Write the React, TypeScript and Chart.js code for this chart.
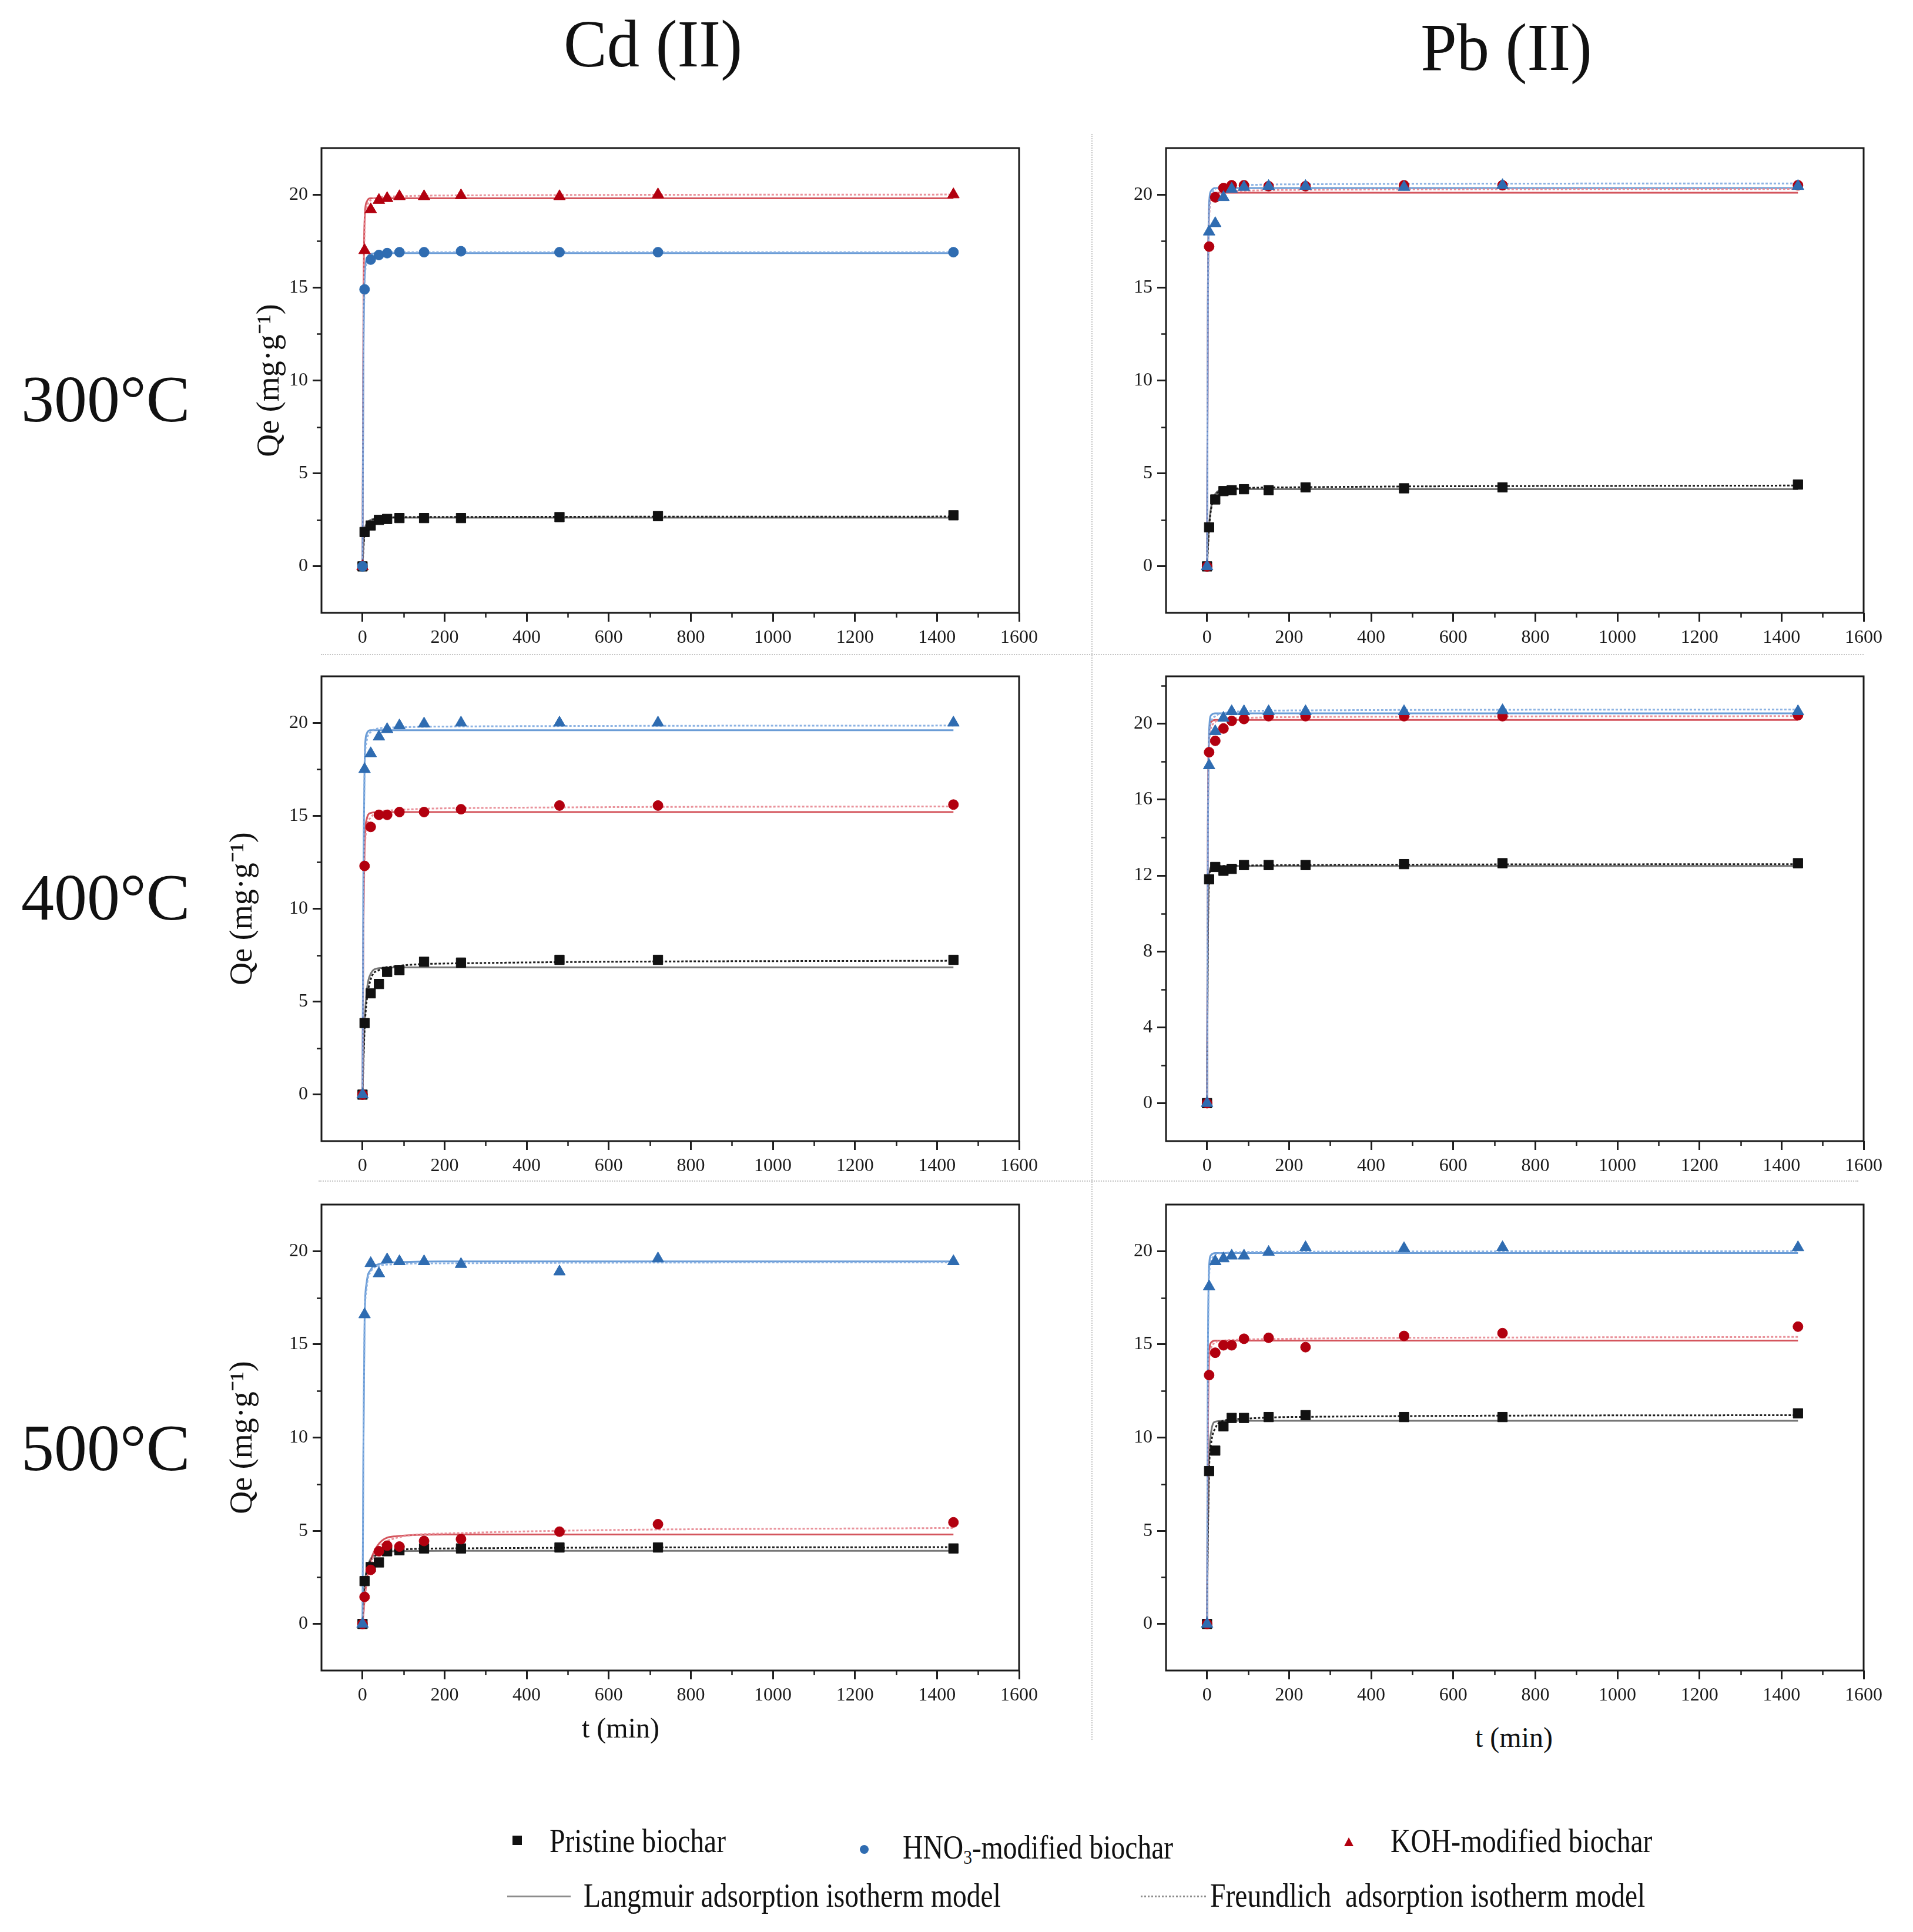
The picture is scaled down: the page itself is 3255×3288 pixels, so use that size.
import React, { useEffect, useRef } from 'react';
import { Chart, registerables } from 'chart.js';

Chart.register(...registerables);

const FONT = '"Liberation Serif", "Times New Roman", Times, serif';
Chart.defaults.font.family = FONT;

// ---------- shared axes / times ----------
const T_MIN = [0, 5, 20, 40, 60, 90, 150, 240, 480, 720, 1440];
const FIT_T = [0, 2, 5, 10, 20, 40, 80, 200, 1440];
const X_TICKS = [0, 200, 400, 600, 800, 1000, 1200, 1400, 1600];
const X_MINOR = [100, 300, 500, 700, 900, 1100, 1300, 1500];
const Y_TICKS_5 = [0, 5, 10, 15, 20];
const Y_MINOR_5 = [2.5, 7.5, 12.5, 17.5];
const Y_TICKS_4 = [0, 4, 8, 12, 16, 20];
const Y_MINOR_4 = [2, 6, 10, 14, 18, 22];

// ---------- Cd(II) 300 °C ----------
const CD300_PRISTINE = [0, 1.85, 2.2, 2.5, 2.55, 2.6, 2.6, 2.6, 2.65, 2.7, 2.75];
const CD300_HNO3 = [0, 14.9, 16.5, 16.75, 16.85, 16.9, 16.9, 16.95, 16.9, 16.9, 16.9];
const CD300_KOH = [0, 17.0, 19.2, 19.7, 19.8, 19.9, 19.9, 19.95, 19.9, 20.0, 20.0];
const CD300_PRISTINE_L = [0, 1.0, 1.9, 2.3, 2.5, 2.6, 2.62, 2.62, 2.62];
const CD300_PRISTINE_F = [0, 0.9, 1.8, 2.2, 2.45, 2.58, 2.64, 2.66, 2.68];
const CD300_HNO3_L = [0, 10.5, 15.5, 16.5, 16.8, 16.85, 16.85, 16.85, 16.85];
const CD300_HNO3_F = [0, 10.0, 15.0, 16.3, 16.7, 16.85, 16.9, 16.9, 16.9];
const CD300_KOH_L = [0, 12.5, 18.6, 19.6, 19.8, 19.8, 19.8, 19.8, 19.8];
const CD300_KOH_F = [0, 11.5, 18.0, 19.3, 19.7, 19.85, 19.9, 19.95, 20.0];

// ---------- Pb(II) 300 °C ----------
const PB300_PRISTINE = [0, 2.1, 3.6, 4.05, 4.1, 4.15, 4.1, 4.25, 4.2, 4.25, 4.4];
const PB300_HNO3 = [0, 18.0, 18.45, 19.85, 20.3, 20.4, 20.45, 20.45, 20.4, 20.5, 20.45];
const PB300_KOH = [0, 17.2, 19.85, 20.35, 20.5, 20.5, 20.45, 20.45, 20.5, 20.5, 20.5];
const PB300_PRISTINE_L = [0, 1.0, 2.2, 3.2, 3.9, 4.12, 4.15, 4.15, 4.15];
const PB300_PRISTINE_F = [0, 0.9, 2.1, 3.1, 3.8, 4.1, 4.2, 4.25, 4.35];
const PB300_HNO3_L = [0, 14.0, 19.5, 20.2, 20.35, 20.35, 20.35, 20.35, 20.35];
const PB300_HNO3_F = [0, 13.0, 18.8, 19.9, 20.3, 20.45, 20.5, 20.55, 20.6];
const PB300_KOH_L = [0, 14.0, 19.3, 20.0, 20.1, 20.1, 20.1, 20.1, 20.1];
const PB300_KOH_F = [0, 13.0, 18.6, 19.7, 20.0, 20.15, 20.2, 20.25, 20.3];

// ---------- Cd(II) 400 °C ----------
const CD400_PRISTINE = [0, 3.85, 5.45, 5.95, 6.6, 6.7, 7.15, 7.1, 7.25, 7.25, 7.25];
const CD400_HNO3 = [0, 17.5, 18.35, 19.25, 19.65, 19.85, 19.95, 20.0, 20.0, 20.0, 20.0];
const CD400_KOH = [0, 12.3, 14.4, 15.05, 15.05, 15.2, 15.2, 15.35, 15.55, 15.55, 15.6];
const CD400_PRISTINE_L = [0, 1.8, 3.8, 5.5, 6.5, 6.8, 6.85, 6.85, 6.85];
const CD400_PRISTINE_F = [0, 1.6, 3.5, 5.0, 6.2, 6.7, 6.9, 7.05, 7.2];
const CD400_HNO3_L = [0, 11.5, 17.8, 19.4, 19.6, 19.6, 19.6, 19.6, 19.6];
const CD400_HNO3_F = [0, 11.0, 17.2, 19.0, 19.5, 19.7, 19.75, 19.8, 19.85];
const CD400_KOH_L = [0, 8.5, 13.2, 14.8, 15.15, 15.2, 15.2, 15.2, 15.2];
const CD400_KOH_F = [0, 8.0, 12.6, 14.3, 14.9, 15.2, 15.3, 15.4, 15.5];

// ---------- Pb(II) 400 °C ----------
const PB400_PRISTINE = [0, 11.8, 12.45, 12.25, 12.35, 12.55, 12.55, 12.55, 12.6, 12.65, 12.65];
const PB400_HNO3 = [0, 17.8, 19.6, 20.3, 20.65, 20.65, 20.65, 20.65, 20.65, 20.7, 20.65];
const PB400_KOH = [0, 18.5, 19.1, 19.75, 20.15, 20.25, 20.4, 20.4, 20.4, 20.4, 20.45];
const PB400_PRISTINE_L = [0, 8.5, 12.0, 12.45, 12.5, 12.5, 12.5, 12.5, 12.5];
const PB400_PRISTINE_F = [0, 8.3, 11.8, 12.35, 12.45, 12.5, 12.52, 12.55, 12.6];
const PB400_HNO3_L = [0, 14.0, 19.6, 20.45, 20.55, 20.55, 20.55, 20.55, 20.55];
const PB400_HNO3_F = [0, 13.0, 19.0, 20.1, 20.4, 20.55, 20.65, 20.7, 20.75];
const PB400_KOH_L = [0, 14.5, 19.4, 20.1, 20.2, 20.2, 20.2, 20.2, 20.2];
const PB400_KOH_F = [0, 14.0, 18.9, 19.8, 20.1, 20.25, 20.3, 20.35, 20.4];

// ---------- Cd(II) 500 °C ----------
const CD500_PRISTINE = [0, 2.3, 3.05, 3.3, 3.9, 3.95, 4.05, 4.05, 4.1, 4.1, 4.05];
const CD500_HNO3 = [0, 16.6, 19.35, 18.8, 19.55, 19.45, 19.45, 19.3, 18.9, 19.6, 19.45];
const CD500_KOH = [0, 1.45, 2.9, 3.9, 4.2, 4.15, 4.45, 4.55, 4.95, 5.35, 5.45];
const CD500_PRISTINE_L = [0, 1.0, 2.1, 2.9, 3.5, 3.8, 3.9, 3.92, 3.92];
const CD500_PRISTINE_F = [0, 0.9, 2.0, 2.8, 3.4, 3.75, 3.95, 4.05, 4.12];
const CD500_HNO3_L = [0, 9.0, 16.3, 18.3, 19.0, 19.3, 19.4, 19.45, 19.45];
const CD500_HNO3_F = [0, 8.5, 15.8, 18.0, 18.9, 19.2, 19.3, 19.35, 19.4];
const CD500_KOH_L = [0, 0.5, 1.3, 2.3, 3.4, 4.3, 4.7, 4.8, 4.8];
const CD500_KOH_F = [0, 0.4, 1.2, 2.2, 3.2, 4.1, 4.6, 4.85, 5.15];

// ---------- Pb(II) 500 °C ----------
const PB500_PRISTINE = [0, 8.2, 9.3, 10.6, 11.05, 11.05, 11.1, 11.2, 11.1, 11.1, 11.3];
const PB500_HNO3 = [0, 18.1, 19.45, 19.6, 19.75, 19.75, 19.95, 20.2, 20.15, 20.2, 20.2];
const PB500_KOH = [0, 13.35, 14.55, 14.95, 14.95, 15.3, 15.35, 14.85, 15.45, 15.6, 15.95];
const PB500_PRISTINE_L = [0, 5.0, 8.8, 10.3, 10.85, 10.9, 10.9, 10.9, 10.9];
const PB500_PRISTINE_F = [0, 4.5, 8.3, 9.7, 10.5, 10.9, 11.0, 11.1, 11.2];
const PB500_HNO3_L = [0, 14.0, 19.2, 19.8, 19.9, 19.9, 19.9, 19.9, 19.9];
const PB500_HNO3_F = [0, 13.5, 18.6, 19.5, 19.8, 19.9, 19.95, 19.97, 20.0];
const PB500_KOH_L = [0, 10.0, 14.5, 15.1, 15.2, 15.2, 15.2, 15.2, 15.2];
const PB500_KOH_F = [0, 9.5, 13.9, 14.8, 15.1, 15.2, 15.25, 15.3, 15.4];

// ---------- styles ----------
const C_BLACK = '#111111';
const C_BLUE = '#2f6cb1';
const C_RED = '#b2000f';
const L_BLACK = 'rgba(95,95,95,0.85)';
const F_BLACK = '#1e1e1e';
const L_BLUE = 'rgba(90,145,210,0.9)';
const F_BLUE = 'rgba(135,175,225,0.95)';
const L_RED = 'rgba(205,55,65,0.85)';
const F_RED = 'rgba(232,140,150,0.95)';

const YW = 180;
const XH = 72;
const PT = 30;
const PR = 48;
const TICK_FONT = 32;
const YTITLE_FS = 54;

type Shape = 'circle' | 'triangle';
interface PanelCfg {
  frame: [number, number, number, number];
  yMin: number;
  yMax: number;
  yTicks: number[];
  yMinor: number[];
  yTitlePad: number | null;
  blueShape: Shape;
  redShape: Shape;
  pristine: number[];
  hno3: number[];
  koh: number[];
  pristineL: number[];
  pristineF: number[];
  hno3L: number[];
  hno3F: number[];
  kohL: number[];
  kohF: number[];
}

const PANELS: PanelCfg[] = [
  {
    frame: [547, 252, 1734, 1043], yMin: -2.5, yMax: 22.5, yTicks: Y_TICKS_5, yMinor: Y_MINOR_5, yTitlePad: 60,
    blueShape: 'circle', redShape: 'triangle',
    pristine: CD300_PRISTINE, hno3: CD300_HNO3, koh: CD300_KOH,
    pristineL: CD300_PRISTINE_L, pristineF: CD300_PRISTINE_F, hno3L: CD300_HNO3_L, hno3F: CD300_HNO3_F, kohL: CD300_KOH_L, kohF: CD300_KOH_F,
  },
  {
    frame: [1984, 252, 3171, 1043], yMin: -2.5, yMax: 22.5, yTicks: Y_TICKS_5, yMinor: Y_MINOR_5, yTitlePad: null,
    blueShape: 'triangle', redShape: 'circle',
    pristine: PB300_PRISTINE, hno3: PB300_HNO3, koh: PB300_KOH,
    pristineL: PB300_PRISTINE_L, pristineF: PB300_PRISTINE_F, hno3L: PB300_HNO3_L, hno3F: PB300_HNO3_F, kohL: PB300_KOH_L, kohF: PB300_KOH_F,
  },
  {
    frame: [547, 1151, 1734, 1942], yMin: -2.5, yMax: 22.5, yTicks: Y_TICKS_5, yMinor: Y_MINOR_5, yTitlePad: 14,
    blueShape: 'triangle', redShape: 'circle',
    pristine: CD400_PRISTINE, hno3: CD400_HNO3, koh: CD400_KOH,
    pristineL: CD400_PRISTINE_L, pristineF: CD400_PRISTINE_F, hno3L: CD400_HNO3_L, hno3F: CD400_HNO3_F, kohL: CD400_KOH_L, kohF: CD400_KOH_F,
  },
  {
    frame: [1984, 1151, 3171, 1942], yMin: -2, yMax: 22.5, yTicks: Y_TICKS_4, yMinor: Y_MINOR_4, yTitlePad: null,
    blueShape: 'triangle', redShape: 'circle',
    pristine: PB400_PRISTINE, hno3: PB400_HNO3, koh: PB400_KOH,
    pristineL: PB400_PRISTINE_L, pristineF: PB400_PRISTINE_F, hno3L: PB400_HNO3_L, hno3F: PB400_HNO3_F, kohL: PB400_KOH_L, kohF: PB400_KOH_F,
  },
  {
    frame: [547, 2050, 1734, 2843], yMin: -2.5, yMax: 22.5, yTicks: Y_TICKS_5, yMinor: Y_MINOR_5, yTitlePad: 14,
    blueShape: 'triangle', redShape: 'circle',
    pristine: CD500_PRISTINE, hno3: CD500_HNO3, koh: CD500_KOH,
    pristineL: CD500_PRISTINE_L, pristineF: CD500_PRISTINE_F, hno3L: CD500_HNO3_L, hno3F: CD500_HNO3_F, kohL: CD500_KOH_L, kohF: CD500_KOH_F,
  },
  {
    frame: [1984, 2050, 3171, 2843], yMin: -2.5, yMax: 22.5, yTicks: Y_TICKS_5, yMinor: Y_MINOR_5, yTitlePad: null,
    blueShape: 'triangle', redShape: 'circle',
    pristine: PB500_PRISTINE, hno3: PB500_HNO3, koh: PB500_KOH,
    pristineL: PB500_PRISTINE_L, pristineF: PB500_PRISTINE_F, hno3L: PB500_HNO3_L, hno3F: PB500_HNO3_F, kohL: PB500_KOH_L, kohF: PB500_KOH_F,
  },
];

const pts = (xs: number[], ys: number[]) => xs.map((x, i) => ({ x, y: ys[i] }));
const radiusFor = (s: string) => (s === 'circle' ? 8.5 : 11.5);

const frameMinorPlugin = {
  id: 'frameMinor',
  afterDraw(chart: any, _args: any, opts: any) {
    const { ctx, chartArea: a, scales } = chart;
    ctx.save();
    ctx.strokeStyle = '#1e1e1e';
    ctx.lineWidth = 2.5;
    ctx.beginPath();
    for (const v of opts.xMinor || []) {
      const px = Math.round(scales.x.getPixelForValue(v)) + 0.5;
      ctx.moveTo(px, a.bottom);
      ctx.lineTo(px, a.bottom + 8);
    }
    for (const v of opts.yMinor || []) {
      const py = Math.round(scales.y.getPixelForValue(v)) + 0.5;
      ctx.moveTo(a.left, py);
      ctx.lineTo(a.left - 8, py);
    }
    ctx.stroke();
    ctx.lineWidth = 3;
    ctx.strokeStyle = '#1a1a1a';
    ctx.strokeRect(a.left, a.top, a.right - a.left, a.bottom - a.top);
    ctx.restore();
  },
};

function Panel({ cfg }: { cfg: PanelCfg }) {
  const ref = useRef<HTMLCanvasElement>(null);
  const [L, T, R, B] = cfg.frame;
  const w = R - L + YW + PR;
  const h = B - T + PT + XH;
  const left = L - YW;
  const top = T - PT;

  useEffect(() => {
    const fit = (data: number[], color: string, dashed: boolean, order: number) => ({
      data: pts(FIT_T, data),
      borderColor: color,
      backgroundColor: color,
      borderWidth: 3,
      borderDash: dashed ? [4, 3] : [],
      pointRadius: 0,
      showLine: true,
      fill: false,
      cubicInterpolationMode: 'monotone' as const,
      order,
    });
    const mark = (data: number[], color: string, shape: string, order: number) => ({
      data: pts(T_MIN, data),
      borderColor: color,
      backgroundColor: color,
      pointStyle: shape,
      pointRadius: radiusFor(shape),
      pointBorderWidth: 1,
      showLine: false,
      order,
    });
    const chart = new Chart(ref.current as HTMLCanvasElement, {
      type: 'line',
      data: {
        datasets: [
          mark(cfg.hno3, C_BLUE, cfg.blueShape, 0),
          mark(cfg.koh, C_RED, cfg.redShape, 1),
          mark(cfg.pristine, C_BLACK, 'rect', 2),
          fit(cfg.hno3F, F_BLUE, true, 3),
          fit(cfg.kohF, F_RED, true, 4),
          fit(cfg.pristineF, F_BLACK, true, 5),
          fit(cfg.hno3L, L_BLUE, false, 6),
          fit(cfg.kohL, L_RED, false, 7),
          fit(cfg.pristineL, L_BLACK, false, 8),
        ] as any,
      },
      options: {
        responsive: false,
        devicePixelRatio: 1,
        animation: false,
        events: [],
        layout: { padding: { left: 0, top: PT, right: PR, bottom: 0 } },
        plugins: {
          legend: { display: false },
          tooltip: { enabled: false },
          frameMinor: { xMinor: X_MINOR, yMinor: cfg.yMinor },
        } as any,
        scales: {
          x: {
            type: 'linear',
            min: -100,
            max: 1600,
            afterBuildTicks: (s: any) => {
              s.ticks = X_TICKS.map((v) => ({ value: v }));
            },
            afterFit: (s: any) => {
              s.height = XH;
            },
            ticks: {
              callback: (v: any) => String(v),
              font: { family: FONT, size: TICK_FONT },
              color: '#1a1a1a',
              padding: 8,
              maxRotation: 0,
              autoSkip: false,
            },
            grid: {
              drawOnChartArea: false,
              drawTicks: true,
              tickLength: 15,
              tickWidth: 3,
              tickColor: '#1e1e1e',
            },
            border: { display: false },
          },
          y: {
            type: 'linear',
            min: cfg.yMin,
            max: cfg.yMax,
            afterBuildTicks: (s: any) => {
              s.ticks = cfg.yTicks.map((v) => ({ value: v }));
            },
            afterFit: (s: any) => {
              s.width = YW;
            },
            ticks: {
              callback: (v: any) => String(v),
              font: { family: FONT, size: TICK_FONT },
              color: '#1a1a1a',
              padding: 8,
              autoSkip: false,
            },
            grid: {
              drawOnChartArea: false,
              drawTicks: true,
              tickLength: 15,
              tickWidth: 3,
              tickColor: '#1e1e1e',
            },
            border: { display: false },
            title: {
              display: cfg.yTitlePad !== null,
              text: 'Qe (mg·g⁻¹)',
              font: { family: FONT, size: YTITLE_FS },
              color: '#111111',
              padding: { top: cfg.yTitlePad ?? 0, bottom: 0 },
            },
          },
        },
      } as any,
      plugins: [frameMinorPlugin],
    });
    return () => chart.destroy();
  }, []);

  return (
    <canvas
      ref={ref}
      width={w}
      height={h}
      style={{ position: 'absolute', left, top, width: w, height: h }}
    />
  );
}

const txt = (extra: React.CSSProperties): React.CSSProperties => ({
  position: 'absolute',
  fontFamily: FONT,
  color: '#111111',
  lineHeight: 1,
  whiteSpace: 'pre',
  ...extra,
});

const LEG_FS = 56;
const LEG_SX = 0.85;
const legText = (left: number, baseline: number): React.CSSProperties =>
  txt({
    left,
    top: baseline - 0.8375 * LEG_FS,
    fontSize: LEG_FS,
    transform: `scaleX(${LEG_SX})`,
    transformOrigin: 'left top',
  });

export default function App() {
  return (
    <div
      style={{
        position: 'absolute',
        left: 0,
        top: 0,
        width: 3255,
        height: 3288,
        background: '#ffffff',
        overflow: 'hidden',
      }}
    >
      {/* column titles */}
      <div style={txt({ left: 1111, top: 113 - 0.8375 * 114, fontSize: 114, transform: 'translateX(-50%) scaleX(0.97)' })}>Cd (II)</div>
      <div style={txt({ left: 2563, top: 119 - 0.8375 * 114, fontSize: 114, transform: 'translateX(-50%) scaleX(0.97)' })}>Pb (II)</div>

      {/* row labels */}
      <div style={txt({ left: 36, top: 717 - 0.8375 * 112, fontSize: 112 })}>300°C</div>
      <div style={txt({ left: 36, top: 1565 - 0.8375 * 112, fontSize: 112 })}>400°C</div>
      <div style={txt({ left: 36, top: 2502 - 0.8375 * 112, fontSize: 112 })}>500°C</div>

      {/* dividers */}
      <div style={{ position: 'absolute', left: 1857, top: 228, width: 0, height: 2733, borderLeft: '2px dotted #c4c4c4' }} />
      <div style={{ position: 'absolute', left: 546, top: 1113, width: 2625, height: 0, borderTop: '2px dotted #c4c4c4' }} />
      <div style={{ position: 'absolute', left: 542, top: 2009, width: 2620, height: 0, borderTop: '2px dotted #c4c4c4' }} />

      {PANELS.map((p, i) => (
        <Panel key={i} cfg={p} />
      ))}

      {/* x axis titles */}
      <div style={txt({ left: 1056, top: 2917, fontSize: 48, transform: 'translateX(-50%)' })}>t (min)</div>
      <div style={txt({ left: 2576, top: 2933, fontSize: 48, transform: 'translateX(-50%)' })}>t (min)</div>

      {/* legend row 1 */}
      <div style={{ position: 'absolute', left: 872, top: 3124, width: 16, height: 16, background: C_BLACK }} />
      <div style={legText(935, 3152)}>Pristine biochar</div>
      <div style={{ position: 'absolute', left: 1463, top: 3140, width: 15, height: 15, borderRadius: '50%', background: C_BLUE }} />
      <div style={legText(1536, 3163)}>
        HNO<sub style={{ fontSize: '0.62em', verticalAlign: '-0.25em', lineHeight: 0 }}>3</sub>-modified biochar
      </div>
      <div
        style={{
          position: 'absolute',
          left: 2287,
          top: 3127,
          width: 0,
          height: 0,
          borderLeft: '8px solid transparent',
          borderRight: '8px solid transparent',
          borderBottom: `15px solid ${C_RED}`,
        }}
      />
      <div style={legText(2366, 3152)}>KOH-modified biochar</div>

      {/* legend row 2 */}
      <div style={{ position: 'absolute', left: 863, top: 3226, width: 108, height: 0, borderTop: '3px solid #8c8c8c' }} />
      <div style={legText(993, 3245)}>Langmuir adsorption isotherm model</div>
      <div style={{ position: 'absolute', left: 1941, top: 3226, width: 111, height: 0, borderTop: '3px dotted #8c8c8c' }} />
      <div style={legText(2059, 3245)}>Freundlich  adsorption isotherm model</div>
    </div>
  );
}
